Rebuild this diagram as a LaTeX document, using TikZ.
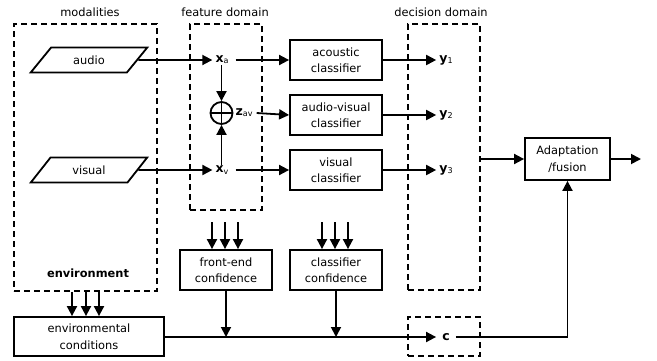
\documentclass[tikz,border=0pt]{standalone}
\usepackage{fontspec}
\setmainfont{DejaVu Sans}
\usetikzlibrary{arrows.meta,shapes.geometric}
\newcommand{\subtxt}[1]{\raisebox{-1.2pt}{\fontsize{8}{8}\selectfont\mdseries #1}}
\begin{document}
\begin{tikzpicture}[x=1pt,y=-1pt,
  font=\fontsize{11.4}{16.5}\selectfont,
  lw/.style={line width=1.8pt},
  dbox/.style={draw,lw,dash pattern=on 6pt off 4pt,inner sep=0pt},
  sbox/.style={draw,lw,align=center,minimum width=92pt,minimum height=40pt,inner sep=1pt},
  para/.style={draw,lw,trapezium,trapezium left angle=46,trapezium right angle=134,trapezium stretches=true,minimum width=117pt,minimum height=25pt,inner sep=0pt},
  arr/.style={lw,-{Triangle[length=10pt,width=10pt]}},
  var/.style={inner ysep=1pt,inner xsep=3pt,font=\fontsize{12.5}{13}\selectfont\bfseries}
]
\useasboundingbox (0,0) rectangle (657,360);
% dashed regions
\node[dbox,minimum width=143pt,minimum height=267pt] (modbox) at (85.5,157.5) {};
\node[dbox,minimum width=72pt,minimum height=186pt] (featbox) at (226,117) {};
\node[dbox,minimum width=72pt,minimum height=266pt] (decbox) at (444,157) {};
\node[dbox,minimum width=72pt,minimum height=39pt] (cbox) at (444,336.5) {};
\node (lmod) at (90,12) {modalities};
\node (lfeat) at (225,12) {feature domain};
\node (ldec) at (441,12) {decision domain};
\node[font=\fontsize{11.4}{13}\selectfont\bfseries] (lenv) at (88,273) {environment};
% modalities
\node[para] (audio) at (89,60) {audio};
\node[para] (visual) at (89,170) {visual};
% features
\node[var] (xa) at (222,60) {x\subtxt{a}};
\node[var] (xv) at (222,170) {x\subtxt{v}};
\node[draw,lw,circle,minimum size=22pt,inner sep=0pt,
  path picture={\draw[lw] (path picture bounding box.north) -- (path picture bounding box.south)
  (path picture bounding box.west) -- (path picture bounding box.east);}] (plus) at (221.5,113) {};
\node[var,anchor=west,inner xsep=2pt] (zav) at (plus.east) {z\subtxt{av}};
% classifiers
\node[sbox] (ac) at (336,60) {acoustic\\classifier};
\node[sbox] (avc) at (336,115) {audio-visual\\classifier};
\node[sbox] (vc) at (336,170) {visual\\classifier};
\node[var] (y1) at (446,60) {y\subtxt{1}};
\node[var] (y2) at (446,115) {y\subtxt{2}};
\node[var] (y3) at (446,170) {y\subtxt{3}};
\node[sbox,minimum width=85pt,minimum height=42pt] (fus) at (567.5,159) {Adaptation\\/fusion};
\coordinate (out) at (641,159);
% confidences
\node[sbox] (fe) at (226,270) {front-end\\confidence};
\node[sbox] (cc) at (336,270) {classifier\\confidence};
\node[sbox,minimum width=150pt,minimum height=39pt] (env) at (89,336.5) {environmental\\conditions};
\node[var,inner xsep=6pt] (c) at (446,337) {c};
\coordinate (fe1) at (212,222);
\coordinate (fe2) at (225,222);
\coordinate (fe3) at (238,222);
\coordinate (cc1) at (322,222);
\coordinate (cc2) at (335,222);
\coordinate (cc3) at (348,222);
% connectors
\draw[arr] (audio.east) -- (xa.west);
\draw[arr] (visual.east) -- (xv.west);
\draw[arr] (plus |- xa.south) -- (plus.north);
\draw[arr] (plus |- xv.north) -- (plus.south);
\draw[arr] ([xshift=4pt]xa.east) -- (ac.west);
\draw[arr] ([xshift=2pt]zav.east) -- (avc.west);
\draw[arr] ([xshift=4pt]xv.east) -- (vc.west);
\draw[arr] (ac.east) -- (y1.west);
\draw[arr] (avc.east) -- (y2.west);
\draw[arr] (vc.east) -- (y3.west);
\draw[arr] (decbox.east |- fus.west) -- (fus.west);
\draw[arr] (fus.east) -- (out);
\foreach \p in {fe1,fe2,fe3} \draw[arr] (\p) -- (\p |- fe.north);
\foreach \p in {cc1,cc2,cc3} \draw[arr] (\p) -- (\p |- cc.north);
\foreach \xx in {72,86,99} \draw[arr] (\xx,0 |- modbox.south) -- (\xx,0 |- env.north);
\draw[arr] (env.east |- c.west) -- (c.west);
\draw[arr] (fe.south) -- (fe.south |- c.west);
\draw[arr] (cc.south) -- (cc.south |- c.west);
\draw[arr] (c.east) -| (fus.south);
\end{tikzpicture}
\end{document}
